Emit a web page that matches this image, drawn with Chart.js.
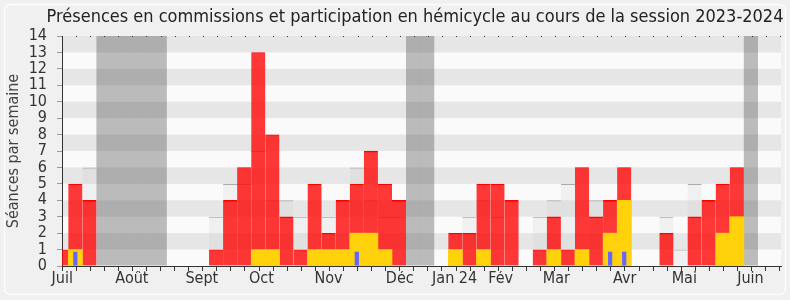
<!DOCTYPE html>
<html><head><meta charset="utf-8">
<script src="https://cdn.jsdelivr.net/npm/chart.js@4/dist/chart.umd.min.js"></script>
<style>html,body{margin:0;padding:0;background:#F0F0F0;}canvas{display:block;}</style>
</head><body>
<canvas id="c" width="790" height="300"></canvas>
<script>
const _ = null;
const titre = 'Présences en commissions et participation en hémicycle au cours de la session 2023-2024';
// semaine index (bar centre); -1 = last days of June 2023
const semaines = [-1,0,1,2,3,4,5,6,7,8,9,10,11,12,13,14,15,16,17,18,19,20,21,22,23,24,25,26,27,28,29,30,31,32,33,34,35,36,37,38,39,40,41,42,43,44,45,46,47,48,49,50];
const commissions = [1,5,4,_,_,_,_,_,_,_,_,1,4,6,13,8,3,1,5,2,4,5,7,5,4,_,_,_,2,2,5,5,4,_,1,3,1,6,3,4,6,_,_,2,_,3,4,5,6,_,_,_];
const hemicycle   = [_,1,_,_,_,_,_,_,_,_,_,_,_,_,1,1,_,_,1,1,1,2,2,1,_,_,_,_,1,_,1,_,_,_,_,1,_,1,_,2,4,_,_,_,_,_,_,2,3,_,_,_];
const questions   = [_,0.87,_,_,_,_,_,_,_,_,_,_,_,_,_,_,_,_,_,_,_,0.87,_,_,_,_,_,_,_,_,_,_,_,_,_,_,_,_,_,0.87,0.87,_,_,_,_,_,_,_,_,_,_,_];
const mediane     = [_,_,6,_,_,_,_,_,_,_,_,3,5,5,7,4,4,3,_,3,_,6,4,3,3,_,_,_,_,3,4,3,_,_,3,4,5,_,4,_,_,_,_,3,1,5,_,_,_,_,_,_];
const vacances    = [_,_,_,14,14,14,14,14,_,_,_,_,_,_,_,_,_,_,_,_,_,_,_,_,_,14,14,_,_,_,_,_,_,_,_,_,_,_,_,_,_,_,_,_,_,_,_,_,_,14,_,_];
const moisLabels = ['Juil','Août','Sept','Oct','Nov','Déc','Jan 24','Fév','Mar','Avr','Mai','Juin'];
const moisPos    = [-0.93,4.02,8.99,13.22,17.99,23.05,26.95,30.22,34.18,39.03,43.27,47.97];
const yTicks = [0,1,2,3,4,5,6,7,8,9,10,11,12,13,14];

const xMin = -0.947, xMax = 50.14;
const pts = arr => semaines.map((s, i) => ({x: s, y: arr[i]}));
const FONT = "'DejaVu Sans Condensed', 'DejaVu Sans', sans-serif";
Chart.defaults.font.family = FONT;

const decor = {
  id: 'decor',
  beforeDraw(chart) {
    const {ctx, width, height, chartArea: a, scales: {y}} = chart;
    ctx.save();
    ctx.fillStyle = '#F0F0F0'; ctx.fillRect(0, 0, width, height);
    ctx.strokeStyle = '#FCFCFC'; ctx.lineWidth = 1.5;
    ctx.beginPath(); ctx.roundRect(4.5, 4.5, width - 9, height - 10, 6); ctx.stroke();
    ctx.fillStyle = '#FAFAFA'; ctx.fillRect(a.left, a.top, a.right - a.left, a.bottom - a.top);
    ctx.fillStyle = '#E6E6E6';
    for (let v = 1; v < 14; v += 2) {
      const y1 = y.getPixelForValue(v + 1), y0 = y.getPixelForValue(v);
      ctx.fillRect(a.left, y1, a.right - a.left, y0 - y1);
    }
    ctx.restore();
  },
  afterDraw(chart) {
    const {ctx, chartArea: a, scales: {x}} = chart;
    ctx.save();
    ctx.fillStyle = '#333';
    x.ticks.forEach(t => { const px = Math.round(x.getPixelForValue(t.value)); ctx.fillRect(px, a.top, 1, 1); });
    ctx.fillStyle = '#222';
    ctx.font = '18px ' + FONT;
    ctx.textAlign = 'center'; ctx.textBaseline = 'middle';
    ctx.fillText(titre, 415, 17);
    ctx.restore();
  }
};

new Chart(document.getElementById('c'), {
  type: 'bar',
  data: {
    datasets: [
      {label: 'Questions', data: pts(questions), backgroundColor: 'rgb(102,102,255)', barPercentage: 0.3, categoryPercentage: 1, inflateAmount: 0, order: 0, clip: 0},
      {label: 'Hémicycle', data: pts(hemicycle), backgroundColor: 'rgb(255,210,12)', barPercentage: 1, categoryPercentage: 1, order: 1, clip: 0},
      {label: 'Commissions', data: pts(commissions), backgroundColor: 'rgba(255,0,0,0.78)', borderColor: 'rgb(255,0,0)', borderWidth: {top: 1, left: 0, right: 0, bottom: 0}, borderSkipped: 'start', barPercentage: 1, categoryPercentage: 1, inflateAmount: 0.18, order: 2, clip: 0},
      {label: 'Médiane', data: pts(mediane), backgroundColor: 'rgba(200,200,200,0.2)', borderColor: '#AAAAAA', borderWidth: {top: 1, left: 0, right: 0, bottom: 0}, borderSkipped: 'start', barPercentage: 1, categoryPercentage: 1, inflateAmount: 0.03, order: 3, clip: 0},
      {label: 'Vacances', data: pts(vacances), backgroundColor: 'rgba(60,60,60,0.33)', barPercentage: 1, categoryPercentage: 1, inflateAmount: 0.05, order: 4, clip: 0}
    ]
  },
  options: {
    responsive: false, animation: false, events: [],
    layout: {padding: {top: 36, right: 9, bottom: 0, left: 0}},
    plugins: {legend: {display: false}, tooltip: {enabled: false}, title: {display: false}},
    scales: {
      x: {
        type: 'linear', min: xMin, max: xMax, bounds: 'data', stacked: true, offset: false, z: 1, weight: 0,
        afterBuildTicks: s => { const t = []; for (let n = 0; xMin + n <= xMax + 1e-9; n++) t.push({value: xMin + n}); s.ticks = t; },
        ticks: {display: false},
        grid: {offset: false, drawOnChartArea: false, drawTicks: true, tickLength: 5, tickColor: '#333'},
        border: {display: true, color: '#333', width: 1},
        afterFit: s => { s.height = 5; }
      },
      xm: {
        type: 'linear', position: 'bottom', min: xMin, max: xMax, bounds: 'data', offset: false, weight: 1,
        afterBuildTicks: s => { s.ticks = moisPos.map(v => ({value: v})); },
        ticks: {autoSkip: false, maxRotation: 0, minRotation: 0, padding: -2, color: '#333', font: {size: 16},
          callback: (v, i) => moisLabels[i]},
        grid: {display: false, drawTicks: false, offset: false},
        border: {display: false},
        afterFit: s => { s.height = 29; }
      },
      y: {
        min: 0, max: 14, stacked: false, z: 1,
        afterBuildTicks: s => { s.ticks = yTicks.map(v => ({value: v})); },
        ticks: {autoSkip: false, color: '#333', font: {size: 16}, padding: 10},
        grid: {drawOnChartArea: false, tickLength: 5, tickColor: '#999'},
        border: {color: '#333'},
        title: {display: true, text: 'Séances par semaine', color: '#444', font: {size: 16}, padding: {top: 4, bottom: 0}},
        afterFit: s => { s.width = 62; }
      }
    }
  },
  plugins: [decor]
});
</script>
</body></html>
